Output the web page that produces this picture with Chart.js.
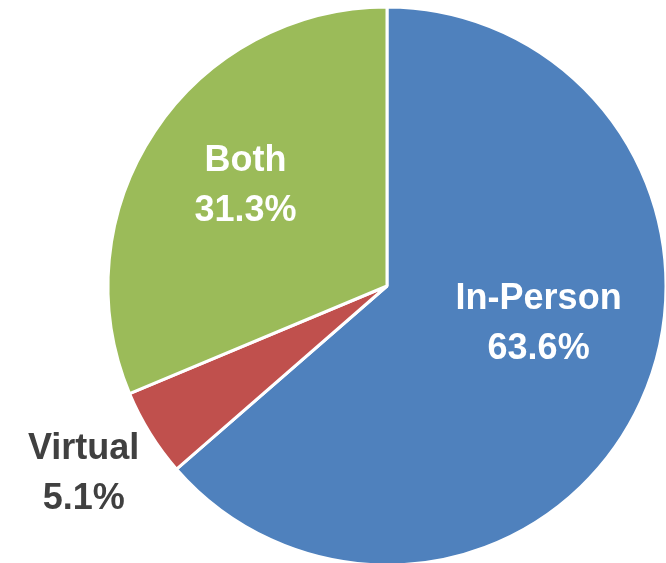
<!DOCTYPE html>
<html>
<head>
<meta charset="utf-8">
<script src="https://cdn.jsdelivr.net/npm/chart.js@4"></script>
<style>
  html, body { margin: 0; padding: 0; background: #fff; overflow: hidden; }
  #wrap { width: 666px; height: 563px; position: relative; }
</style>
</head>
<body>
<div id="wrap"><canvas id="pie"></canvas></div>
<script>
// Datos
const categorias = ['In-Person', 'Virtual', 'Both'];
const porcentajes = [63.6, 5.1, 31.3];
const colores = ['#4f81bd', '#c0504d', '#9bbb59'];

// Posicion de etiquetas: fraccion del radio y giro respecto al angulo medio
const radioEtiqueta = [0.56, 1.28, 0.62];
const giroEtiqueta = [-10.5, 0, 1.5];
const colorEtiqueta = ['#ffffff', '#404040', '#ffffff'];

const etiquetasPlugin = {
    id: 'etiquetas',
    afterDatasetsDraw(chart) {
        const ctx = chart.ctx;
        const meta = chart.getDatasetMeta(0);
        ctx.save();
        ctx.font = 'bold 36px "Liberation Sans", Arial, sans-serif';
        ctx.textAlign = 'center';
        ctx.textBaseline = 'middle';
        meta.data.forEach(function(arc, i) {
            const p = arc.getProps(['x', 'y', 'startAngle', 'endAngle', 'outerRadius'], true);
            const ang = (p.startAngle + p.endAngle) / 2 + giroEtiqueta[i] * Math.PI / 180;
            const r = p.outerRadius * radioEtiqueta[i];
            const cx = p.x + Math.cos(ang) * r;
            const cy = p.y + Math.sin(ang) * r;
            ctx.fillStyle = colorEtiqueta[i];
            ctx.fillText(categorias[i], cx, cy - 25);
            ctx.fillText(porcentajes[i].toFixed(1) + '%', cx, cy + 25);
        });
        ctx.restore();
    }
};

new Chart(document.getElementById('pie'), {
    type: 'pie',
    data: {
        labels: categorias,
        datasets: [{
            data: porcentajes,
            backgroundColor: colores,
            borderColor: '#ffffff',
            borderWidth: 3,
            radius: 279,
            hoverOffset: 0
        }]
    },
    options: {
        responsive: true,
        maintainAspectRatio: false,
        animation: false,
        layout: { padding: { left: 108, right: 0, top: 9, bottom: 0 } },
        plugins: {
            legend: { display: false },
            tooltip: { enabled: false }
        }
    },
    plugins: [etiquetasPlugin]
});
</script>
</body>
</html>
